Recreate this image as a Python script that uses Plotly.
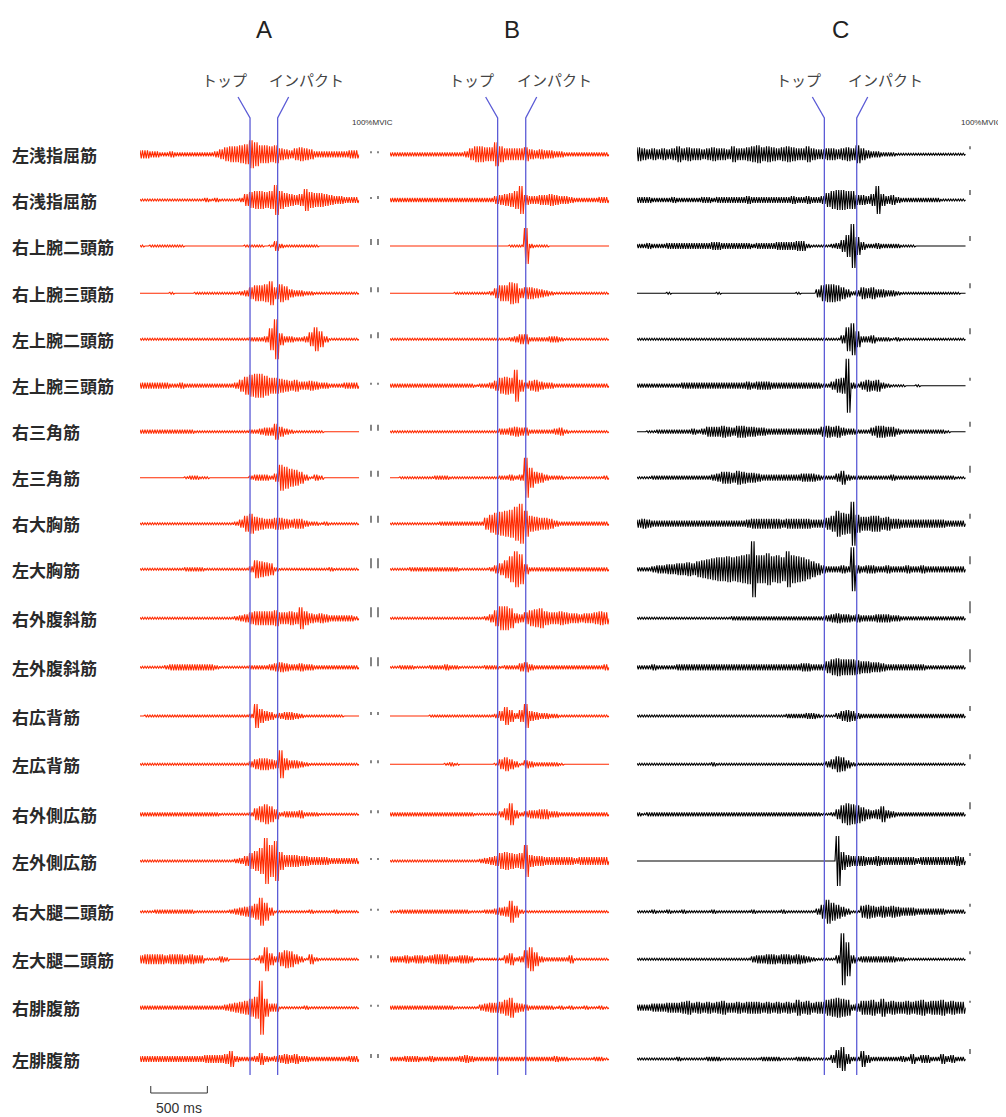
import plotly.graph_objects as go

# ---------------- data ----------------
MUSCLES = ["左浅指屈筋", "右浅指屈筋", "右上腕二頭筋", "右上腕三頭筋", "左上腕二頭筋",
           "左上腕三頭筋", "右三角筋", "左三角筋", "右大胸筋", "左大胸筋",
           "右外腹斜筋", "左外腹斜筋", "右広背筋", "左広背筋", "右外側広筋",
           "左外側広筋", "右大腿二頭筋", "左大腿二頭筋", "右腓腹筋", "左腓腹筋"]
PANELS = ["A", "B", "C"]
EVENT_LABELS = ["トップ", "インパクト"]
TOP_MS = [972, 951, 1655]        # time of top of backswing in each panel (ms)
IMPACT_MS = [1216, 1199, 1941]   # time of impact (ms)
BIN_MS = 44                      # envelope bin width (ms)
SCALE_BAR_MS = 500
SCALE_BAR_START_MS = 95
SCALE_BAR_LABEL = "500 ms"
MVIC_LABEL = "100%MVIC"

# EMG envelope (half amplitude per 44 ms bin, base-36 digits), one string per muscle
ENV_A = [
    "44332 23222 22222 35788 9aec9 98965 46765 33333 3344",
    "11111 11111 11121 21111 26899 89f97 656b8 77654 4333",
    "10111 11110 00000 00000 01111 01521 11111 10000 0000",
    "00000 01000 01111 11111 23688 9c697 43322 11111 1111",
    "11111 11111 11111 11111 11222 3bk63 32237 c8311 1111",
    "33333 32232 22222 22223 69bcc a8876 56445 43322 2333",
    "22222 22222 21111 11111 11223 44853 21111 11000 0000",
    "00000 00001 22110 00000 00233 324db 98631 32000 0000",
    "11111 11111 11111 11112 48a76 55665 45532 21211 1111",
    "11111 11112 22211 11111 11398 76211 11111 11121 1111",
    "11111 11111 11111 11112 34677 77866 76b75 45433 3332",
    "11111 23333 33333 21111 11222 23454 33433 22222 2222",
    "01111 11111 11111 11111 112c7 54234 43211 11111 1000",
    "11111 11111 11111 11111 11356 654e6 44321 11111 1111",
    "22222 22222 22222 21111 11268 a8523 33422 21111 1111",
    "11111 11111 11111 11112 358ad ngk96 66554 44433 3333",
    "11122 22222 21111 11123 4568e 94111 11112 11112 1111",
    "45555 45554 54411 13200 00014 c6379 85315 21111 1111",
    "22222 22222 22222 22345 679br 94411 11121 11111 1111",
    "33333 33333 33344 44583 22236 32345 45332 22222 2233",
]
ENV_B = [
    "22222 22222 22222 36887 7c866 66754 54433 22222 2222",
    "22222 22222 22222 22222 24567 9e544 55654 43222 2233",
    "00000 00000 00000 00000 00001 11i21 11000 00000 0000",
    "00000 00000 00011 11111 2588b a5665 43211 11111 1111",
    "11111 11111 11111 11111 11112 35522 22332 11111 1111",
    "22222 22222 22222 22122 35898 g6356 43322 22222 2222",
    "11111 11111 11111 11111 11334 54422 22234 21111 1111",
    "00111 11112 22111 11111 11223 23ka6 53222 11111 1112",
    "11111 11111 22222 22226 9bcde hkd87 66532 22222 2222",
    "11112 22222 22221 11111 2469d if522 22222 22222 2222",
    "11111 11111 11111 11112 48cca 54689 a7667 65545 5676",
    "11222 11122 23221 11112 22122 24532 22222 22222 2223",
    "00000 00011 11111 11111 12596 36c54 33221 11111 1111",
    "00000 00000 01210 00000 01575 31432 22221 00000 0000",
    "22222 22222 22222 22111 1136b 42344 55332 22222 2222",
    "11111 11111 11111 11123 45898 78g65 54444 44344 4444",
    "11222 22222 22222 21112 2345b 62111 11111 11111 1111",
    "33343 44345 55334 43111 11146 239c7 32222 24111 1111",
    "22222 22222 22211 11134 5568a 54322 22212 12112 1121",
    "22233 32232 22223 43222 22222 22222 22232 21111 1221",
]
ENV_C = [
    "76565 65686 76656 76658 66789 78767 87668 65566 56769 64332 22111 11111 111111",
    "33322 22322 22233 23333 33433 33333 34334 33479 aa995 546e6 45322 22222 21111 1",
    "22322 23333 33333 44333 33323 33344 44552 11112 36bm9 42232 22211 10000 000000",
    "00000 01000 00000 01000 00000 00000 00100 04899 86423 65644 33211 11111 11111 0",
    "11111 11111 11111 11111 11111 11111 11111 11111 14cg8 33422 21211 11111 11111 1",
    "22222 22223 33333 33333 33434 44333 33333 33224 78r32 46563 21110 01000 000000",
    "00112 22222 23235 55654 66554 43333 33333 33565 64332 22466 55322 22222 221000",
    "11122 22222 22222 34665 76554 33333 33344 43222 47322 22222 23222 22222 222211",
    "45433 33333 33333 33333 33455 55554 55555 44468 dbam9 77886 75544 44444 443333",
    "22234 45566 7689a bccdc defse egdec iedca 86433 343m4 34433 43334 33433 333333",
    "11111 11111 11111 11112 22222 22222 22222 22234 54434 33344 43322 22222 222222",
    "22232 22233 33333 33333 33333 33333 33344 33368 98887 66554 33333 33322 222222",
    "11111 11111 11111 11111 11111 11111 22223 32111 35653 22222 22222 22222 222222",
    "11111 11111 11111 21111 11111 11111 11111 11135 87421 11111 11111 11111 111111",
    "21222 22222 22222 22222 22222 22222 22222 22112 59ba9 75458 43222 22222 222222",
    "00000 00000 00000 00000 00000 00000 00000 00000 p9655 54454 44444 43444 444454",
    "11121 12112 11111 21111 11121 11112 11111 137c9 75311 67656 56544 43333 332222",
    "11111 11111 11111 11111 11134 45545 54543 21111 4qh42 33333 33221 11111 111111",
    "33344 45556 75656 56755 65666 56565 65867 56689 a9834 77869 67667 67867 786766",
    "11111 11121 11112 22111 11111 22221 11222 11114 9c522 84222 22232 52442 253422",
]
# 100 %MVIC calibration bar heights per muscle
MVIC_A = [2, 2, 6, 5, 4, 2, 6, 6, 7, 10, 10, 9, 3, 3, 3, 2, 2, 3, 2, 4]
MVIC_B = [2, 3, 6, 5, 6, 2, 6, 6, 7, 10, 10, 9, 3, 3, 3, 2, 2, 3, 2, 4]
MVIC_C = [3, 5, 5, 5, 6, 3, 5, 7, 5, 8, 12, 13, 5, 5, 7, 3, 3, 3, 2, 5]

# ---------------- layout constants ----------------
PAGE_W, PAGE_H = 1006, 1117
BODY_MARGIN = 8                      # default page margin around the plot div
W, H = PAGE_W - BODY_MARGIN, PAGE_H - BODY_MARGIN
PX_PER_MS = 0.1132
PANEL_X0_PX = [140, 390, 637]        # page pixel positions
ROW_BASE = [154.3, 200, 246, 293.3, 339.3, 385.7, 431.7, 477.7, 523.7, 569.3,
            618.3, 667.3, 716, 764.3, 814.3, 861, 911.7, 959.3, 1007.7, 1059]
TRACE_COLORS = ["#ff2a00", "#ff2a00", "#000000"]
EVENT_COLOR = "#5c5cd6"
LINE_KINK_Y, LINE_TOP_Y, LINE_BOTTOM_Y = 118, 97, 1075
MVIC_X_PX = [371, 378, 970]
FONT_JP = "Noto Sans CJK JP"


def px_to_paper(xpx):
    return (xpx - BODY_MARGIN) / W


def parse(s):
    return [int(c, 36) for c in s.replace(" ", "")]


env_sets = [ENV_A, ENV_B, ENV_C]
fig = go.Figure()
layout_axes = {}

for p in range(3):
    axname = "x" if p == 0 else f"x{p + 1}"
    rows = [parse(s) for s in env_sets[p]]
    nb = max(len(r) for r in rows)
    dur = nb * BIN_MS
    x0 = PANEL_X0_PX[p]
    x1 = x0 + dur * PX_PER_MS
    key = "xaxis" if p == 0 else f"xaxis{p + 1}"
    layout_axes[key] = dict(domain=[px_to_paper(x0), px_to_paper(x1)], range=[0, dur],
                            visible=False, anchor="y", fixedrange=True)
    xs, ys = [], []
    for r, amps in enumerate(rows):
        base = ROW_BASE[r]
        for k, a in enumerate(amps):
            t0 = k * BIN_MS
            for j in range(4):
                xs.append(t0 + j * BIN_MS / 4)
                ys.append(base - a if j % 2 == 0 else base + a)
        xs.append(len(amps) * BIN_MS)
        ys.append(base)
        xs.append(None)
        ys.append(None)
    fig.add_trace(go.Scatter(x=xs, y=ys, xaxis=axname, yaxis="y", mode="lines",
                             line=dict(color=TRACE_COLORS[p], width=1.1),
                             hoverinfo="skip", showlegend=False))

    # event lines (top / impact)
    top, imp = TOP_MS[p], IMPACT_MS[p]
    ex = [top - 12 / PX_PER_MS, top, top, None, imp + 11 / PX_PER_MS, imp, imp]
    ey = [LINE_TOP_Y, LINE_KINK_Y, LINE_BOTTOM_Y, None, LINE_TOP_Y, LINE_KINK_Y, LINE_BOTTOM_Y]
    fig.add_trace(go.Scatter(x=ex, y=ey, xaxis=axname, yaxis="y", mode="lines",
                             line=dict(color=EVENT_COLOR, width=1.3),
                             hoverinfo="skip", showlegend=False))
    # event labels
    fig.add_annotation(x=top - 26 / PX_PER_MS, y=79, xref=axname, yref="y",
                       text=EVENT_LABELS[0], showarrow=False,
                       font=dict(family=FONT_JP, size=15, color="#444444"))
    fig.add_annotation(x=imp + 29 / PX_PER_MS, y=79, xref=axname, yref="y",
                       text=EVENT_LABELS[1], showarrow=False,
                       font=dict(family=FONT_JP, size=15, color="#444444"))
    # panel letter
    fig.add_annotation(x=(top + imp) / 2, y=29, xref=axname, yref="y",
                       text=PANELS[p], showarrow=False,
                       font=dict(family="Liberation Sans, Arial", size=24, color="#222222"))

# scale bar
fig.add_trace(go.Scatter(
    x=[SCALE_BAR_START_MS, SCALE_BAR_START_MS, SCALE_BAR_START_MS + SCALE_BAR_MS,
       SCALE_BAR_START_MS + SCALE_BAR_MS],
    y=[1086, 1093, 1093, 1086], xaxis="x", yaxis="y", mode="lines",
    line=dict(color="#333333", width=1), hoverinfo="skip", showlegend=False))
fig.add_annotation(x=SCALE_BAR_START_MS + SCALE_BAR_MS / 2, y=1108, xref="x", yref="y",
                   text=SCALE_BAR_LABEL, showarrow=False,
                   font=dict(family="Liberation Sans, Arial", size=14, color="#333333"))

# row labels
for r, name in enumerate(MUSCLES):
    fig.add_annotation(x=px_to_paper(10), y=ROW_BASE[r], xref="paper", yref="y", text=name,
                       showarrow=False, xanchor="left", yanchor="middle",
                       font=dict(family=FONT_JP, size=17, color="#2a2a2a", weight="bold"))

# MVIC calibration bars
shapes = []
for r in range(len(MUSCLES)):
    b = ROW_BASE[r]
    for xp, h, off in ((MVIC_X_PX[0], MVIC_A[r], 1), (MVIC_X_PX[1], MVIC_B[r], 1),
                       (MVIC_X_PX[2], MVIC_C[r], 5)):
        shapes.append(dict(type="line", xref="paper", yref="y",
                           x0=px_to_paper(xp), x1=px_to_paper(xp),
                           y0=b - off, y1=b - off - h,
                           line=dict(color="#444444", width=1.3)))

fig.add_annotation(x=px_to_paper(372), y=122, xref="paper", yref="y", text=MVIC_LABEL,
                   showarrow=False, font=dict(family="Liberation Sans, Arial", size=8,
                                              color="#333333"))
fig.add_annotation(x=px_to_paper(1004), y=122, xref="paper", yref="y", text=MVIC_LABEL,
                   showarrow=False, xanchor="right",
                   font=dict(family="Liberation Sans, Arial", size=8, color="#333333"))

fig.update_layout(
    width=W, height=H,
    margin=dict(l=0, r=0, t=0, b=0),
    paper_bgcolor="white", plot_bgcolor="white",
    yaxis=dict(domain=[0, 1], range=[PAGE_H, BODY_MARGIN], visible=False, fixedrange=True),
    shapes=shapes,
    showlegend=False,
    **layout_axes,
)

fig.write_html("out.html")
